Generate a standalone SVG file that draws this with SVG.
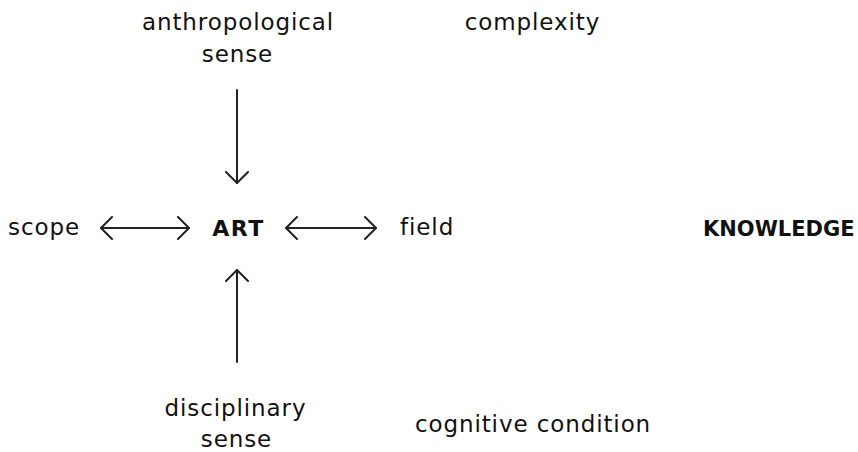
<svg xmlns="http://www.w3.org/2000/svg" width="858" height="452" viewBox="0 0 858 452">
<style>
text{font-family:"DejaVu Sans","Liberation Sans",sans-serif;font-size:23px;letter-spacing:0.9px;fill:#111;}
.b{font-weight:bold;font-size:21px;letter-spacing:0;}
.art{font-size:22px;letter-spacing:1.5px;}
.c{text-anchor:middle;}
.ln{stroke:#222;stroke-width:2;fill:none;stroke-linecap:round;stroke-linejoin:round;}
</style>
<defs>
<marker id="ah" viewBox="0 0 14 24" refX="12" refY="12" markerWidth="14" markerHeight="24" markerUnits="userSpaceOnUse" orient="auto-start-reverse">
<path d="M1,1 L12,12 L1,23" fill="none" stroke="#222" stroke-width="2" stroke-linecap="round" stroke-linejoin="round"/>
</marker>
</defs>
<rect width="858" height="452" fill="#fff"/>
<g id="connectors">
<line class="ln" x1="237" y1="90" x2="237" y2="183" marker-end="url(#ah)"/>
<line class="ln" x1="237" y1="362" x2="237" y2="270" marker-end="url(#ah)"/>
<line class="ln" x1="101" y1="228" x2="189" y2="228" marker-start="url(#ah)" marker-end="url(#ah)"/>
<line class="ln" x1="286" y1="228" x2="376" y2="228" marker-start="url(#ah)" marker-end="url(#ah)"/>
</g>
<g id="anthropological"><text class="c" x="238" y="30">anthropological</text><text class="c" x="237.5" y="62">sense</text></g>
<g id="complexity"><text class="c" x="532.5" y="30">complexity</text></g>
<g id="scope"><text x="8" y="235">scope</text></g>
<g id="art"><text class="b c art" x="238.5" y="236">ART</text></g>
<g id="field"><text x="400" y="235">field</text></g>
<g id="knowledge"><text class="b" x="703" y="236">KNOWLEDGE</text></g>
<g id="disciplinary"><text class="c" x="235.5" y="416">disciplinary</text><text class="c" x="236.5" y="447">sense</text></g>
<g id="cognitive"><text class="c" x="533" y="432">cognitive condition</text></g>
</svg>
